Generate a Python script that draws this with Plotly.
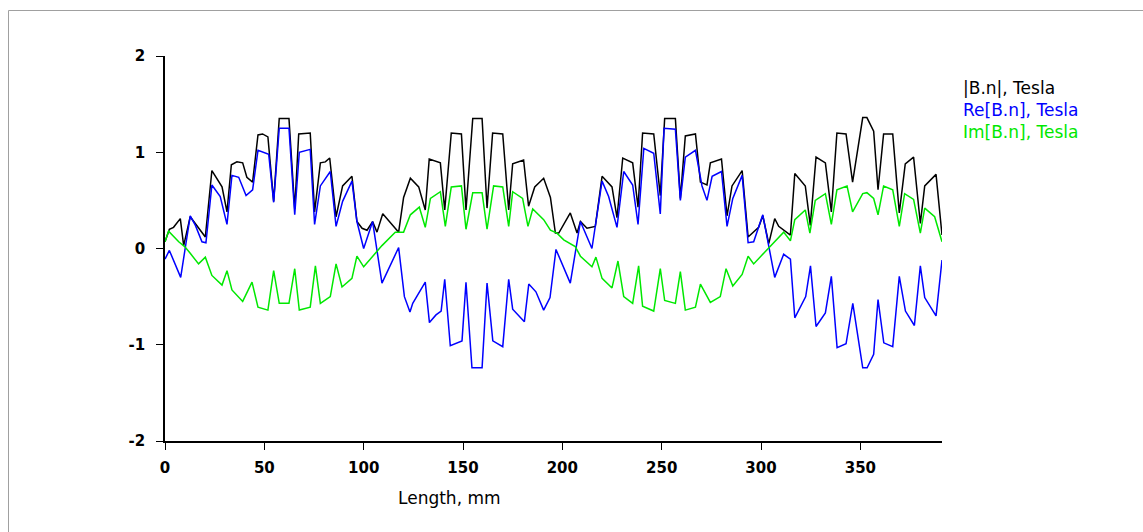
import plotly.graph_objects as go

# |B.n| (Tesla) along the contour
abs_x = [0.0, 2.2, 4.3, 7.7, 9.4, 12.7, 20.3, 23.6, 28.7, 31.2, 33.4, 36.2, 39.1, 41.2, 44.1, 46.8, 49.1, 51.8,
         54.7, 57.5, 62.4, 65.3, 67.3, 73.1, 75.3, 78.2, 80.7, 82.9, 86.1, 89.4, 94.1, 96.6, 99.2, 101.7, 104.5,
         106.7, 109.6, 117.6, 120.1, 123.5, 127.7, 131.0, 133.0, 138.6, 140.8, 144.1, 149.2, 151.5, 154.9, 159.6,
         162.1, 164.9, 170.0, 173.0, 175.0, 180.5, 183.0, 186.1, 190.6, 194.0, 196.5, 198.2, 204.0, 207.4, 209.1,
         212.4, 216.6, 220.0, 225.0, 227.5, 230.4, 235.4, 238.1, 240.4, 246.0, 249.3, 251.5, 256.9, 259.4, 261.9,
         267.0, 269.5, 272.8, 274.5, 280.1, 282.9, 285.4, 290.5, 293.5, 298.8, 300.9, 303.9, 306.9, 308.9, 314.8,
         317.0, 322.3, 324.8, 327.7, 332.4, 335.4, 338.2, 342.8, 346.1, 351.2, 353.3, 356.7, 358.9, 361.7, 366.3,
         369.6, 372.6, 376.8, 380.2, 382.4, 388.1, 391.1]
abs_y = [0.07, 0.20, 0.22, 0.31, 0.03, 0.33, 0.12, 0.81, 0.64, 0.38, 0.87, 0.90, 0.89, 0.74, 0.69, 1.18, 1.19, 1.16,
         0.49, 1.35, 1.35, 0.41, 1.19, 1.20, 0.38, 0.89, 0.90, 0.94, 0.33, 0.65, 0.75, 0.28, 0.21, 0.19, 0.28,
         0.17, 0.36, 0.17, 0.53, 0.73, 0.64, 0.40, 0.93, 0.89, 0.40, 1.20, 1.19, 0.40, 1.35, 1.35,
         0.42, 1.20, 1.19, 0.40, 0.88, 0.92, 0.44, 0.64, 0.73, 0.53, 0.16, 0.16, 0.37, 0.16, 0.28,
         0.21, 0.23, 0.75, 0.64, 0.32, 0.94, 0.89, 0.43, 1.20, 1.19, 0.55, 1.35, 1.35, 0.52, 1.17,
         1.19, 0.69, 0.66, 0.89, 0.93, 0.34, 0.65, 0.81, 0.12, 0.22, 0.34, 0.05, 0.31, 0.23, 0.14,
         0.78, 0.65, 0.24, 0.95, 0.89, 0.38, 1.20, 1.19, 0.69, 1.36, 1.36, 1.22, 0.61, 1.19, 1.19,
         0.37, 0.88, 0.95, 0.26, 0.65, 0.77, 0.14]

# Re[B.n] (Tesla)
re_x = [0.0, 2.2, 7.9, 12.7, 15.3, 18.6, 20.6, 23.6, 27.8, 31.2, 33.7, 37.1, 40.8, 44.1, 46.8, 52.2, 54.7, 57.5,
        62.4, 65.3, 67.6, 73.1, 75.3, 78.2, 83.2, 86.1, 89.4, 94.1, 96.6, 100.0, 104.5, 109.2, 117.6, 120.5, 123.3,
        124.7, 131.0, 133.1, 136.4, 139.0, 140.8, 143.6, 149.5, 151.5, 154.5, 159.6, 162.1, 165.0, 170.0, 173.0,
        175.0, 180.9, 183.1, 186.7, 190.6, 193.8, 196.8, 204.0, 209.1, 214.9, 220.0, 223.3, 227.5, 230.9, 235.4,
        238.1, 241.0, 246.0, 249.3, 251.2, 256.9, 259.4, 261.9, 267.0, 270.3, 272.8, 275.4, 280.1, 282.9, 285.8,
        290.5, 293.5, 296.3, 300.9, 306.9, 311.4, 314.8, 317.0, 322.5, 324.9, 327.7, 332.4, 335.4, 338.3, 342.8,
        346.2, 351.2, 353.4, 356.7, 358.9, 361.8, 366.3, 369.6, 372.7, 377.2, 380.2, 382.4, 388.1, 391.1]
re_y = [-0.11, -0.02, -0.30, 0.34, 0.24, 0.07, 0.06, 0.66, 0.54, 0.25, 0.76, 0.74, 0.55, 0.61, 1.02, 0.98, 0.48, 1.25,
        1.25, 0.35, 1.00, 1.03, 0.25, 0.65, 0.80, 0.23, 0.49, 0.70, 0.28, 0.00, 0.28, -0.36, 0.01, -0.50, -0.66,
        -0.57, -0.35, -0.77, -0.69, -0.65, -0.32, -1.01, -0.96, -0.35, -1.24, -1.24, -0.36, -0.96, -1.02, -0.32,
        -0.63, -0.76, -0.37, -0.45, -0.64, -0.51, -0.01, -0.36, 0.28, 0.00, 0.70, 0.54, 0.22, 0.80, 0.66,
        0.25, 1.04, 0.99, 0.36, 1.25, 1.24, 0.50, 0.95, 1.02, 0.65, 0.50, 0.75, 0.80, 0.23, 0.52,
        0.76, 0.06, 0.07, 0.35, -0.30, -0.06, -0.11, -0.72, -0.50, -0.18, -0.81, -0.67, -0.29, -1.03, -0.99,
        -0.57, -1.24, -1.24, -1.10, -0.53, -0.98, -1.02, -0.29, -0.65, -0.80, -0.18, -0.51, -0.70, -0.12]

# Im[B.n] (Tesla)
im_x = [0.0, 1.8, 6.9, 9.9, 12.7, 16.9, 20.3, 23.6, 28.7, 31.2, 33.7, 39.1, 43.8, 46.8, 51.8, 54.7, 57.5, 62.4,
        65.3, 67.6, 73.1, 75.7, 78.2, 83.2, 86.1, 89.1, 94.1, 96.6, 100.0, 104.2, 109.2, 115.9, 120.1, 123.5, 128.0,
        131.0, 133.6, 138.6, 141.1, 144.1, 149.2, 151.5, 154.9, 159.6, 162.1, 165.4, 170.0, 173.0, 175.0, 180.0,
        182.7, 185.1, 190.6, 194.0, 197.3, 200.7, 206.5, 209.1, 214.9, 216.9, 220.0, 225.0, 228.0, 230.9, 235.4,
        238.4, 240.4, 246.0, 249.3, 251.5, 256.9, 259.4, 261.9, 267.0, 269.5, 274.5, 279.5, 282.4, 285.8, 290.5,
        293.5, 296.3, 311.4, 314.8, 317.0, 322.3, 324.6, 327.3, 332.4, 335.4, 338.2, 343.3, 346.1, 351.2, 353.3,
        356.7, 358.9, 361.7, 366.3, 369.6, 372.3, 376.8, 380.2, 382.4, 387.4, 391.1]
im_y = [0.07, 0.18, 0.07, 0.02, -0.05, -0.16, -0.09, -0.28, -0.38, -0.23, -0.43, -0.55, -0.35, -0.61, -0.64, -0.23, -0.57, -0.57,
        -0.21, -0.64, -0.61, -0.18, -0.57, -0.50, -0.16, -0.40, -0.31, -0.08, -0.19, -0.09, 0.03, 0.17, 0.17, 0.35, 0.43,
        0.22, 0.52, 0.59, 0.23, 0.64, 0.65, 0.20, 0.58, 0.58, 0.20, 0.65, 0.64, 0.23, 0.59, 0.52,
        0.23, 0.41, 0.30, 0.19, 0.16, 0.09, 0.02, -0.08, -0.19, -0.09, -0.31, -0.41, -0.13, -0.50, -0.57,
        -0.18, -0.60, -0.65, -0.21, -0.54, -0.57, -0.24, -0.64, -0.61, -0.37, -0.56, -0.50, -0.21, -0.39, -0.27,
        -0.08, -0.16, 0.17, 0.08, 0.30, 0.40, 0.16, 0.50, 0.57, 0.25, 0.61, 0.65, 0.38, 0.57, 0.58,
        0.52, 0.35, 0.65, 0.61, 0.23, 0.57, 0.51, 0.16, 0.42, 0.33, 0.07]

x_ticks = [0, 50, 100, 150, 200, 250, 300, 350]
y_ticks = [-2, -1, 0, 1, 2]
y_tick_text = ["-2", "-1", "0", "1", "2"]
series_names = ["|B.n|, Tesla", "Re[B.n], Tesla", "Im[B.n], Tesla"]
series_colors = ["#000000", "#0000FF", "#00E800"]

FONT = "DejaVu Sans"

fig = go.Figure()
for xs, ys, name, col in [(abs_x, abs_y, series_names[0], series_colors[0]),
                          (re_x, re_y, series_names[1], series_colors[1]),
                          (im_x, im_y, series_names[2], series_colors[2])]:
    fig.add_trace(go.Scatter(x=xs, y=ys, mode="lines", name=name,
                             line=dict(color=col, width=1.5), showlegend=False))

W, H = 1143, 532
L, R, T, B = 165, 201, 56, 91
pw, ph = W - L - R, H - T - B

def px(X):
    return (X - L) / pw

def py(Y):
    return (H - B - Y) / ph

annotations = []
for i, (name, col) in enumerate(zip(series_names, series_colors)):
    annotations.append(dict(text=name, x=px(961), y=py(88 + i * 21.8), xref="paper", yref="paper",
                            xanchor="left", yanchor="middle", showarrow=False,
                            font=dict(family=FONT, size=17, color=col)))
annotations.append(dict(text="Length, mm", x=px(449.5), y=py(498), xref="paper", yref="paper",
                        xanchor="center", yanchor="middle", showarrow=False,
                        font=dict(family=FONT, size=17, color="#000000")))

tickfont = dict(family=FONT, size=15, color="#000000", weight="bold")

fig.update_layout(
    width=W, height=H,
    margin=dict(l=L, r=R, t=T, b=B, pad=0),
    paper_bgcolor="white", plot_bgcolor="white",
    font=dict(family=FONT, size=14, color="#000000"),
    annotations=annotations,
    shapes=[dict(type="rect", xref="paper", yref="paper",
                 x0=px(8.5), x1=px(1160), y0=py(10.5), y1=py(560),
                 line=dict(color="#A0A0A0", width=1), layer="below")],
    xaxis=dict(range=[0, 391.1], tickvals=x_ticks, showgrid=False, zeroline=False,
               showline=True, linecolor="#000000", linewidth=1.5,
               ticks="outside", ticklen=7, tickcolor="#000000", tickwidth=1,
               tickfont=tickfont, ticklabelstandoff=5),
    yaxis=dict(range=[-2, 2], tickvals=y_ticks, ticktext=y_tick_text, showgrid=False, zeroline=False,
               showline=True, linecolor="#000000", linewidth=1.5,
               ticks="outside", ticklen=7, tickcolor="#000000", tickwidth=1,
               tickfont=tickfont, ticklabelstandoff=8),
)

fig.write_html("out.html")
